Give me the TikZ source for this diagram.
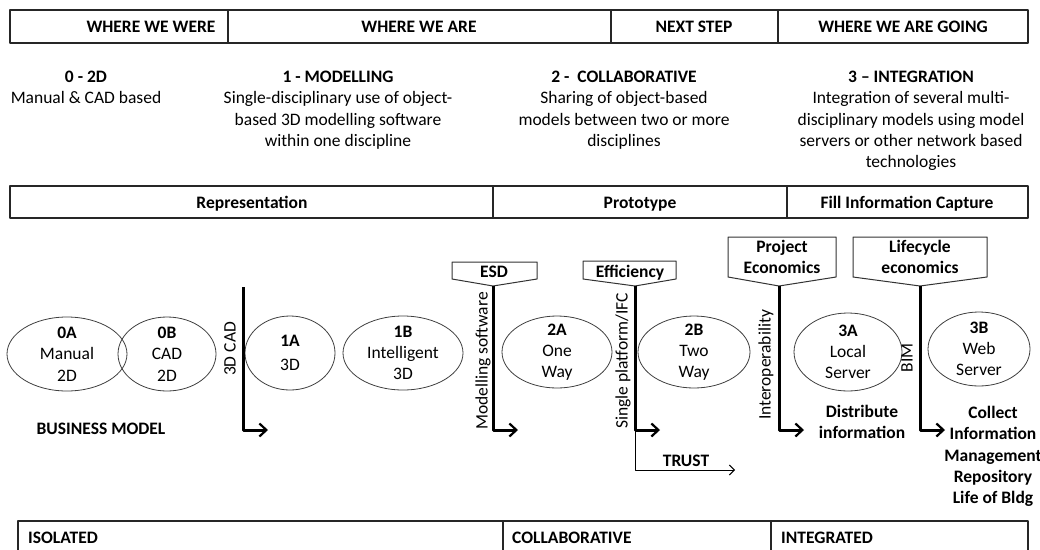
\documentclass[tikz,border=0pt]{standalone}
\usepackage{fontspec}
\setmainfont{Carlito}
\usetikzlibrary{shapes.geometric,arrows.meta}

\begin{document}
\begin{tikzpicture}[x=1pt, y=-1pt, line join = round,
  every node/.style={font=\fontsize{17.5}{21.3}\selectfont, inner sep=0pt, align=center},
  hd/.style={font=\fontsize{17.5}{21.3}\selectfont\bfseries},
  one/.style={text height=11pt, text depth=0pt},
  frame/.style={draw=black!85, line width=1.2pt},
  oval/.style={draw=black!75, ellipse, line width=.8pt, inner sep=0pt},
  tagbox/.style={draw=black!80, line width=1pt},
  bar/.style={line width=3pt, -{Straight Barb[length=7pt, width=13pt, line width=2.2pt]}},
  side/.style={rotate=90, text height=11pt, text depth=4pt}]
\clip (0,0) rectangle (1040,549);
\fill[white] (0,0) rectangle (1040,549);

%Top row: where we were / are / next / going
\draw[frame] (10,10) rectangle (1028,43) (228,10)--(228,43) (611,10)--(611,43) (778,10)--(778,43);
\node[hd, one] (were) at (151,27) {WHERE WE WERE};
\node[hd, one] (are) at (419,27) {WHERE WE ARE};
\node[hd, one] (next) at (694,27) {NEXT STEP};
\node[hd, one] (going) at (903,27) {WHERE WE ARE GOING};

%Stages
\node[anchor=north] (s0) at (86,71) {\textbf{0 - 2D}\\Manual \& CAD based};
\node[anchor=north] (s1) at (338,71) {\textbf{1 - MODELLING}\\Single-disciplinary use of object-\\based 3D modelling software\\within one discipline};
\node[anchor=north] (s2) at (624,71) {\textbf{2 -\ \ COLLABORATIVE}\\Sharing of object-based\\models between two or more\\disciplines};
\node[anchor=north] (s3) at (911,71) {\textbf{3 -- INTEGRATION}\\Integration of several multi-\\disciplinary models using model\\servers or other network based\\technologies};

%Second row
\draw[frame] (10,186) rectangle (1028,218) (493,186)--(493,218) (787,186)--(787,218);
\node[hd, one] (repr) at (252,203) {Representation};
\node[hd, one] (proto) at (640,203) {Prototype};
\node[hd, one] (fill) at (907,203) {Fill Information Capture};

%Ovals
\node[oval, minimum width=120pt, minimum height=74pt] (o0A) at (67,354) {};
\node[oval, minimum width=98pt, minimum height=74pt] (o0B) at (167,354) {};
\node[oval, minimum width=90pt, minimum height=74pt] (o1A) at (290,353) {};
\node[oval, minimum width=120pt, minimum height=74pt] (o1B) at (403,353) {};
\node[oval, minimum width=110pt, minimum height=72pt] (o2A) at (557,352) {};
\node[oval, minimum width=112pt, minimum height=72pt] (o2B) at (694,352) {};
\node[oval, minimum width=108pt, minimum height=78pt] (o3A) at (848,352) {};
\node[oval, minimum width=102pt, minimum height=74pt] (o3B) at (979,349) {};
\node (l0A) at (o0A) {\textbf{0A}\\Manual\\2D};
\node (l0B) at (o0B) {\textbf{0B}\\CAD\\2D};
\node (l1A) at (o1A) {\textbf{1A}\\[3pt]3D};
\node (l1B) at (o1B) {\textbf{1B}\\Intelligent\\3D};
\node (l2A) at (o2A) {\textbf{2A}\\One\\Way};
\node (l2B) at (o2B) {\textbf{2B}\\Two\\Way};
\node (l3A) at (o3A) {\textbf{3A}\\Local\\Server};
\node (l3B) at (o3B) {\textbf{3B}\\Web\\Server};

%Tags
\draw[tagbox] (452,262)--(537,262)--(537,279)--(493,286)--(452,279)--cycle;
\node[hd, one] (esd) at (494,272) {ESD};
\draw[tagbox] (583,261)--(676,261)--(676,279)--(635,286)--(583,279)--cycle;
\node[hd, one] (eff) at (630,272) {Efficiency};
\draw[tagbox] (728,237)--(836,237)--(836,277)--(779,286)--(728,277)--cycle;
\node[hd] (proj) at (782,257) {Project\\Economics};
\draw[tagbox] (853,237)--(987,237)--(987,277)--(920,286)--(853,277)--cycle;
\node[hd] (life) at (920,257) {Lifecycle\\economics};

%Bars
\coordinate (b1) at (243,287); \coordinate (e1) at (268,430);
\coordinate (b2) at (493,286); \coordinate (e2) at (518,430);
\coordinate (b3) at (635,286); \coordinate (e3) at (660,430);
\coordinate (b4) at (779,286); \coordinate (e4) at (804,430);
\coordinate (b5) at (920,286); \coordinate (e5) at (945,430);
\coordinate (e6) at (735,470);
\draw[bar] (b1) |- (e1);
\draw[bar] (b2) |- (e2);
\draw[bar] (b3) |- (e3);
\draw[bar] (b4) |- (e4);
\draw[bar] (b5) |- (e5);
\draw[line width=1pt, -{Straight Barb[length=5pt, width=10pt]}] (635,430) |- (e6);
\node[side] (cad) at (232,349) {3D CAD};
\node[side] (mod) at (484,361) {Modelling software};
\node[side] (ifc) at (624,361) {Single platform/IFC};
\node[side] (iop) at (767,365) {Interoperability};
\node[side] (bim) at (909,358) {BIM};

%Notes
\node[hd, one] (biz) at (101,429) {BUSINESS MODEL};
\node[hd, one] (trust) at (686,461) {TRUST};
\node[hd, anchor=north] (dist) at (862,405) {Distribute\\information};
\node[hd, anchor=north] (coll) at (993,406) {Collect\\Information\\Management\\Repository\\Life of Bldg};

%Bottom row
\draw[frame] (18,521) rectangle (1028,570) (503,521)--(503,570) (771,521)--(771,570);
\node[hd, one, anchor=west] (iso) at (28,538) {ISOLATED};
\node[hd, one, anchor=west] (colb) at (512,538) {COLLABORATIVE};
\node[hd, one, anchor=west] (integ) at (781,538) {INTEGRATED};
\end{tikzpicture}
\end{document}
